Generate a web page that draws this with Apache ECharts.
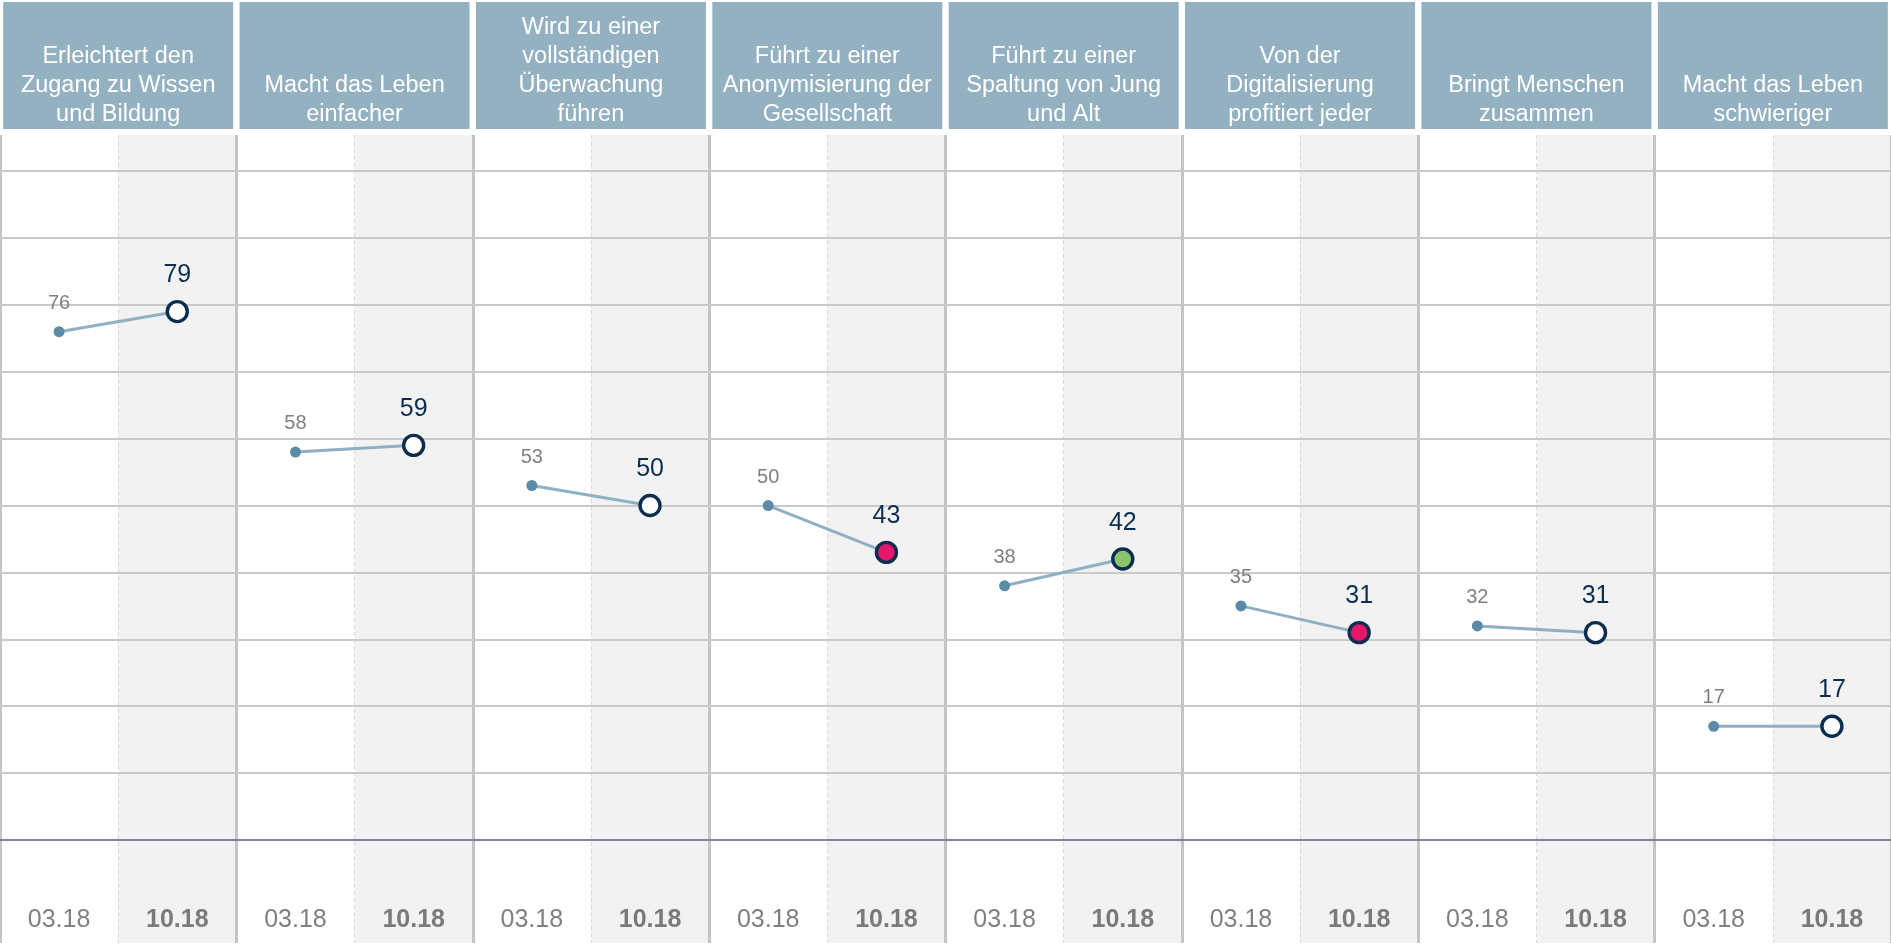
<!DOCTYPE html>
<html>
<head>
<meta charset="utf-8">
<script src="https://cdn.jsdelivr.net/npm/echarts@6/dist/echarts.min.js"></script>
<style>
html,body{margin:0;padding:0;background:#fff;}
#chart{width:1891px;height:947px;}
</style>
</head>
<body>
<div id="chart"></div>
<script>
// ---- data ----
const statements = [
  'Erleichtert den\nZugang zu Wissen\nund Bildung',
  'Macht das Leben\neinfacher',
  'Wird zu einer\nvollständigen\nÜberwachung\nführen',
  'Führt zu einer\nAnonymisierung der\nGesellschaft',
  'Führt zu einer\nSpaltung von Jung\nund Alt',
  'Von der\nDigitalisierung\nprofitiert jeder',
  'Bringt Menschen\nzusammen',
  'Macht das Leben\nschwieriger'
];
const periods = ['03.18', '10.18'];
const wave0318 = [76, 58, 53, 50, 38, 35, 32, 17];
const wave1018 = [79, 59, 50, 43, 42, 31, 31, 17];
const change = ['none', 'none', 'none', 'down', 'up', 'down', 'none', 'none'];
const gridValues = [10, 20, 30, 40, 50, 60, 70, 80, 90, 100];
const baselineValue = 0;

// ---- styling ----
const FONT = '"Liberation Sans", Arial, Helvetica, sans-serif';
const fillFor = { none: '#ffffff', down: '#e5176a', up: '#8cc46c' };
const maxLines = Math.max(...statements.map(s => s.split('\n').length));
const headerText = statements.map(s => '\n'.repeat(maxLines - s.split('\n').length) + s);

const xCats = [];
statements.forEach(() => periods.forEach(p => xCats.push(p)));

const series = [];
// gridlines + baseline
series.push({
  type: 'line', z: 1, silent: true, symbol: 'none',
  data: xCats.map(() => '-'),
  markLine: {
    z: 1,
    silent: true, symbol: 'none', animation: false,
    label: { show: false },
    lineStyle: { color: '#c9c9c9', width: 2, type: 'solid' },
    data: gridValues.map(v => ({ yAxis: v })).concat([
      { yAxis: baselineValue, lineStyle: { color: '#7e8694', width: 2, type: 'solid' } }
    ])
  }
});

statements.forEach((s, i) => {
  const data = xCats.map(() => '-');
  data[2 * i] = {
    value: wave0318[i],
    symbolSize: 11,
    itemStyle: { color: '#5b8ba6', borderWidth: 0 },
    label: { show: true, position: 'top', distance: 13, color: '#808080', fontSize: 20, fontFamily: FONT }
  };
  data[2 * i + 1] = {
    value: wave1018[i],
    symbolSize: 20,
    itemStyle: { color: fillFor[change[i]], borderColor: '#0b2e50', borderWidth: 3.4 },
    label: { show: true, position: 'top', distance: 12, color: '#0b2e50', fontSize: 25, fontFamily: FONT }
  };
  series.push({
    type: 'line', z: 3, symbol: 'circle', showSymbol: true,
    connectNulls: false,
    lineStyle: { color: '#8eb0c2', width: 3 },
    data: data
  });
});

const chart = echarts.init(document.getElementById('chart'), null, { renderer: 'canvas' });
chart.setOption({
  animation: false,
  backgroundColor: '#ffffff',
  grid: { left: 0, right: 0, top: 135, bottom: 4, containLabel: false, outerBoundsMode: 'none' },
  xAxis: [
    {
      type: 'category', data: xCats, boundaryGap: true, position: 'bottom',
      axisLine: { show: false, onZero: false },
      axisTick: { show: false },
      axisLabel: {
        interval: 0, inside: true, margin: 9,
        formatter: (v, idx) => (idx % 2 ? '{b|' + v + '}' : '{a|' + v + '}'),
        rich: {
          a: { fontSize: 25, color: '#808080', fontFamily: FONT, lineHeight: 28 },
          b: { fontSize: 25, color: '#7a7a7a', fontWeight: 'bold', fontFamily: FONT, lineHeight: 28 }
        }
      },
      splitLine: { show: true, interval: 0, lineStyle: { color: '#d9d9d9', width: 1, type: [4, 3] } },
      splitArea: { show: true, interval: 0, areaStyle: { color: ['rgba(255,255,255,0)', '#f2f2f2'] } }
    },
    {
      type: 'category', data: headerText, boundaryGap: true, position: 'top', z: 1,
      axisLine: { show: false, onZero: false },
      axisTick: { show: false },
      axisLabel: {
        interval: 0, margin: 6,
        color: '#ffffff', fontSize: 23.5, lineHeight: 29, fontFamily: FONT,
        backgroundColor: '#93b1c1',
        width: 230, align: 'center',
        padding: [11, 0, 0, 0]
      },
      splitLine: { show: true, interval: 0, lineStyle: { color: '#c4c4c4', width: 3, type: 'solid' } }
    }
  ],
  yAxis: {
    type: 'value', min: -15.4, max: 105.4,
    show: true,
    axisLine: { show: false }, axisTick: { show: false }, axisLabel: { show: false },
    splitLine: { show: false }
  },
  series: series
});
</script>
</body>
</html>
